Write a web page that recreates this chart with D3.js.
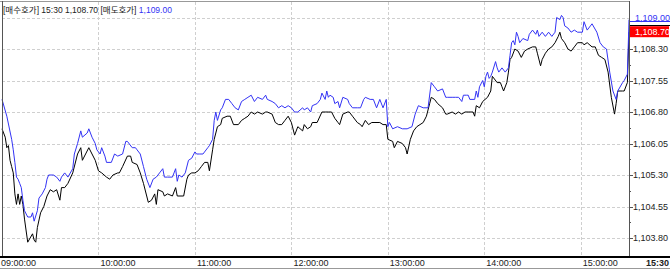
<!DOCTYPE html>
<html>
<head>
<meta charset="utf-8">
<script src="https://cdn.jsdelivr.net/npm/d3@7"></script>
<style>
  body { margin: 0; background: #fff; }
  svg { display: block; font-family: "Liberation Sans", Arial, "Noto Sans CJK KR", sans-serif; }
</style>
</head>
<body>
<svg id="chart" width="670" height="270"></svg>
<script>
// minutes after 09:00, price
const bidMin = [0,2,3,4,5,6,7,8,9,10,11,12,13,14,16,19,20,21,22,24,26,28,30,32,34,36,37,39,41,44,47,49,50,54,56,58,60,62,65,67,69,72,73,75,78,80,81,84,86,88,91,93,95,96,97,100,101,103,106,108,109,113,115,116,118,120,122,124,126,128,129,131,132,134,136,137,140,142,144,147,149,151,153,155,157,159,162,164,165,168,170,172,174,176,178,180,182,184,187,188,190,192,193,196,199,201,203,205,207,209,210,212,215,216,218,221,223,224,226,228,230,232,235,237,239,240,243,244,246,249,251,252,254,256,258,260,262,264,266,267,269,271,274,276,277,280,282,284,286,288,290,293,294,295,297,299,302,304,305,308,310,311,312,314,315,316,317,319,321,323,325,327,330,332,333,335,336,338,340,342,344,346,347,348,350,352,354,356,358,361,362,364,367,369,371,373,375,377,379,381,382,383,386,387,389,390];
const bidVal = [1106.40,1106.20,1105.95,1106.00,1105.65,1105.50,1105.35,1104.85,1104.60,1104.85,1104.60,1104.80,1104.60,1104.25,1103.70,1103.90,1103.75,1103.70,1104.05,1104.40,1104.55,1104.80,1104.95,1104.90,1104.95,1104.70,1105.00,1105.00,1105.10,1105.35,1105.80,1105.95,1105.65,1105.95,1105.80,1105.65,1105.40,1105.35,1105.25,1105.20,1105.30,1105.35,1105.35,1105.50,1105.75,1105.75,1105.60,1105.55,1105.35,1105.10,1104.65,1104.70,1104.85,1104.60,1104.95,1104.90,1104.80,1104.85,1104.80,1105.00,1104.80,1104.80,1105.20,1105.30,1105.35,1105.35,1105.40,1105.50,1105.60,1105.60,1105.40,1105.90,1106.15,1106.45,1106.50,1106.65,1106.70,1106.70,1106.50,1106.50,1106.60,1106.65,1106.70,1106.80,1106.75,1106.80,1106.75,1106.80,1106.80,1106.75,1106.55,1106.50,1106.50,1106.60,1106.70,1106.55,1106.25,1106.45,1106.35,1106.50,1106.40,1106.45,1106.55,1106.55,1106.80,1106.80,1106.80,1106.80,1106.65,1106.55,1106.50,1106.75,1106.80,1106.80,1106.70,1106.55,1106.50,1106.45,1106.60,1106.50,1106.55,1106.55,1106.55,1106.50,1106.50,1106.15,1106.10,1105.95,1106.10,1106.05,1105.95,1105.80,1106.15,1106.35,1106.45,1106.50,1106.55,1106.70,1107.00,1107.15,1107.10,1107.00,1106.90,1106.75,1106.75,1106.80,1106.75,1106.80,1106.75,1106.80,1106.80,1106.80,1106.70,1106.95,1106.90,1107.05,1107.15,1107.30,1107.65,1107.50,1107.50,1107.40,1107.30,1107.50,1107.75,1108.05,1108.10,1108.30,1108.25,1108.10,1108.25,1108.30,1108.35,1108.35,1108.20,1107.90,1108.05,1108.20,1108.30,1108.35,1108.45,1108.60,1108.70,1108.55,1108.45,1108.30,1108.25,1108.35,1108.45,1108.45,1108.40,1108.45,1108.35,1108.35,1108.15,1108.10,1108.05,1107.75,1107.15,1106.75,1107.00,1107.30,1107.30,1107.30,1107.50,1108.70];

const askMin = [0,3,6,7,8,9,10,11,12,13,14,16,18,19,20,22,23,25,27,28,29,32,34,36,37,39,41,44,45,47,49,50,53,54,56,58,59,61,62,64,65,68,70,72,75,77,78,81,83,84,86,88,90,92,94,96,98,100,101,103,106,108,109,110,112,114,116,118,120,121,123,125,128,129,131,132,133,134,136,137,139,141,143,145,147,149,151,153,155,157,159,162,164,165,168,170,172,174,176,178,180,182,184,187,188,190,192,193,196,198,199,201,202,203,204,206,207,209,210,212,215,216,218,221,223,225,226,229,231,233,235,237,239,240,241,243,246,249,252,255,257,259,262,265,267,269,271,274,276,277,280,282,284,286,287,289,290,291,294,295,296,297,299,300,301,302,303,304,305,307,308,309,311,313,315,316,317,318,319,320,321,322,324,327,328,330,332,333,334,336,338,340,342,344,345,347,348,349,350,352,354,356,358,361,362,364,366,367,370,372,374,376,378,380,382,383,386,387,389,390];
const askVal = [1107.10,1106.70,1106.15,1105.90,1105.60,1105.25,1105.20,1105.10,1105.00,1104.70,1104.45,1104.30,1104.30,1104.40,1104.20,1104.45,1104.75,1104.85,1105.00,1105.20,1105.30,1105.30,1105.25,1105.15,1105.25,1105.35,1105.25,1105.45,1105.80,1106.05,1106.35,1106.20,1106.30,1106.40,1106.20,1106.05,1105.90,1105.80,1105.95,1105.75,1105.60,1105.60,1105.80,1105.75,1105.80,1106.10,1106.10,1105.95,1105.95,1105.90,1105.80,1105.50,1105.20,1105.00,1105.20,1105.25,1105.35,1105.45,1105.25,1105.25,1105.25,1105.45,1105.15,1105.30,1105.25,1105.35,1105.65,1105.70,1105.85,1105.80,1105.80,1105.80,1105.95,1106.00,1106.15,1106.60,1106.80,1106.60,1106.85,1106.90,1107.10,1107.10,1107.00,1106.90,1106.85,1107.05,1107.10,1107.15,1107.20,1107.05,1107.15,1107.10,1107.20,1107.10,1107.05,1107.00,1106.90,1106.95,1106.90,1106.95,1106.90,1106.80,1106.80,1106.90,1106.85,1106.90,1106.80,1106.95,1107.00,1107.10,1107.25,1107.10,1107.30,1107.15,1107.20,1107.15,1107.00,1107.05,1106.90,1107.15,1107.10,1107.00,1106.90,1106.90,1106.90,1107.10,1107.15,1107.10,1107.10,1106.90,1107.10,1106.90,1107.10,1106.45,1106.55,1106.40,1106.45,1106.40,1106.40,1106.45,1106.75,1106.95,1106.90,1106.90,1107.50,1107.40,1107.30,1107.35,1107.15,1107.15,1107.15,1107.15,1107.15,1107.05,1107.20,1107.20,1107.20,1107.10,1107.10,1107.30,1107.15,1107.40,1107.55,1107.40,1107.65,1107.75,1107.60,1107.65,1107.75,1108.00,1107.85,1107.75,1107.85,1107.75,1107.85,1108.15,1108.45,1108.50,1108.40,1108.70,1108.60,1108.45,1108.55,1108.50,1108.65,1108.75,1108.65,1108.75,1108.60,1108.70,1108.60,1108.70,1108.60,1108.70,1109.05,1109.00,1109.10,1109.05,1108.85,1108.80,1108.70,1108.75,1108.70,1108.70,1108.95,1108.75,1108.85,1108.90,1108.70,1108.45,1108.35,1108.30,1107.75,1107.30,1107.10,1107.30,1107.50,1107.55,1107.70,1109.00];

const yTicks = [1103.80, 1104.55, 1105.30, 1106.05, 1106.80, 1107.55, 1108.30, 1109.05];
const hourMin = [0, 60, 120, 180, 240, 300, 360];
const hourLabels = ["09:00:00", "10:00:00", "11:00:00", "12:00:00", "13:00:00", "14:00:00", "15:00:00"];
const lastTime = "15:30";
const lastBid = 1108.70, lastAsk = 1109.00;

const W = 670, H = 270;
const plotL = 2, plotR = 629, plotT = 2, plotB = 256;

const svg = d3.select('#chart');
const x = d3.scaleLinear().domain([0, 390]).range([plotL, plotR]);
const y = d3.scaleLinear().domain([1103.80, 1109.05]).range([238, 17.5]);
const fmt = d3.format(',.2f');

svg.append('rect').attr('width', W).attr('height', H).attr('fill', '#fff');

// grid
const grid = svg.append('g').attr('stroke', '#cfcfcf').attr('stroke-dasharray', '3,2').attr('shape-rendering', 'crispEdges');
grid.selectAll('.hg').data(yTicks).enter().append('line')
  .attr('x1', plotL).attr('x2', plotR)
  .attr('y1', d => Math.round(y(d)) + 0.5).attr('y2', d => Math.round(y(d)) + 0.5);
grid.selectAll('.vg').data(hourMin.slice(1)).enter().append('line')
  .attr('y1', plotT).attr('y2', plotB)
  .attr('x1', d => Math.round(x(d)) + 0.5).attr('x2', d => Math.round(x(d)) + 0.5);

// series
const bid = bidMin.map((m, i) => [m, bidVal[i]]);
const ask = askMin.map((m, i) => [m, askVal[i]]);
const line = d3.line().x(d => x(d[0])).y(d => y(d[1]));

svg.append('path').datum(bid).attr('d', line).attr('fill', 'none').attr('stroke', '#000').attr('stroke-width', 1);
svg.append('path').datum(ask).attr('d', line).attr('fill', 'none').attr('stroke', '#3333f5').attr('stroke-width', 1);

// frame
const frame = svg.append('g').attr('shape-rendering', 'crispEdges');
frame.append('line').attr('x1', 0).attr('x2', plotR).attr('y1', 1.5).attr('y2', 1.5).attr('stroke', '#999');
frame.append('line').attr('x1', 2.5).attr('x2', 2.5).attr('y1', 1).attr('y2', plotB).attr('stroke', '#555');
frame.append('line').attr('x1', plotR + 0.5).attr('x2', plotR + 0.5).attr('y1', 1).attr('y2', plotB).attr('stroke', '#555');
frame.append('line').attr('x1', 0).attr('x2', W).attr('y1', 256.5).attr('y2', 256.5).attr('stroke', '#000').attr('stroke-width', 2);
frame.append('line').attr('x1', 0).attr('x2', W).attr('y1', 268.5).attr('y2', 268.5).attr('stroke', '#999');

// right axis
const ax = svg.append('g').attr('font-size', 9).attr('fill', '#222');
ax.selectAll('.tk').data(yTicks).enter().append('line')
  .attr('x1', plotR).attr('x2', plotR + 4)
  .attr('y1', d => Math.round(y(d)) + 0.5).attr('y2', d => Math.round(y(d)) + 0.5)
  .attr('stroke', '#555').attr('shape-rendering', 'crispEdges');
ax.selectAll('.mtk').data(yTicks.slice(0, -1)).enter().append('line')
  .attr('x1', plotR).attr('x2', plotR + 2)
  .attr('y1', d => Math.round(y(d + 0.375)) + 0.5).attr('y2', d => Math.round(y(d + 0.375)) + 0.5)
  .attr('stroke', '#555').attr('shape-rendering', 'crispEdges');
ax.selectAll('.tl').data(yTicks.slice(0, -1)).enter().append('text')
  .attr('x', plotR + 4).attr('y', d => y(d)).attr('dy', '0.35em')
  .text(d => fmt(d));

// last values
ax.append('rect').attr('x', plotR + 1).attr('y', y(lastAsk) - 6).attr('width', W - plotR - 1).attr('height', 10).attr('fill', '#fff');
ax.append('line').attr('x1', plotR + 1).attr('x2', W).attr('y1', Math.round(y(lastAsk)) + 1.5).attr('y2', Math.round(y(lastAsk)) + 1.5)
  .attr('stroke', '#3333f5').attr('shape-rendering', 'crispEdges');
ax.append('text').attr('x', plotR + 6).attr('y', y(lastAsk) - 1).attr('dy', '0.3em').attr('fill', '#3333f5').text(fmt(lastAsk));
ax.append('rect').attr('x', plotR + 1).attr('y', y(lastBid) - 6).attr('width', W - plotR - 2).attr('height', 11).attr('fill', '#f00');
ax.append('line').attr('x1', plotR + 1).attr('x2', W).attr('y1', Math.round(y(lastBid)) - 6.5).attr('y2', Math.round(y(lastBid)) - 6.5)
  .attr('stroke', '#000').attr('shape-rendering', 'crispEdges');
ax.append('text').attr('x', plotR + 6).attr('y', y(lastBid)).attr('dy', '0.35em').attr('fill', '#fff').text(fmt(lastBid));

// time axis
const tx = svg.append('g').attr('font-size', 9).attr('fill', '#222');
tx.selectAll('.xl').data(hourMin).enter().append('text')
  .attr('x', d => d === 0 ? 1 : x(d) + 2).attr('y', 266)
  .text((d, i) => hourLabels[i]);
tx.append('text').attr('x', 669).attr('y', 266).attr('text-anchor', 'end').attr('font-weight', 'bold').text(lastTime);

// header
const hd = svg.append('text').attr('x', 3).attr('y', 13).attr('font-size', 8.5).attr('fill', '#222');
hd.append('tspan').text('[매수호가] ' + lastTime + ' ' + fmt(lastBid) + ' [매도호가] ');
hd.append('tspan').attr('fill', '#3333f5').text(fmt(lastAsk));
</script>
</body>
</html>
